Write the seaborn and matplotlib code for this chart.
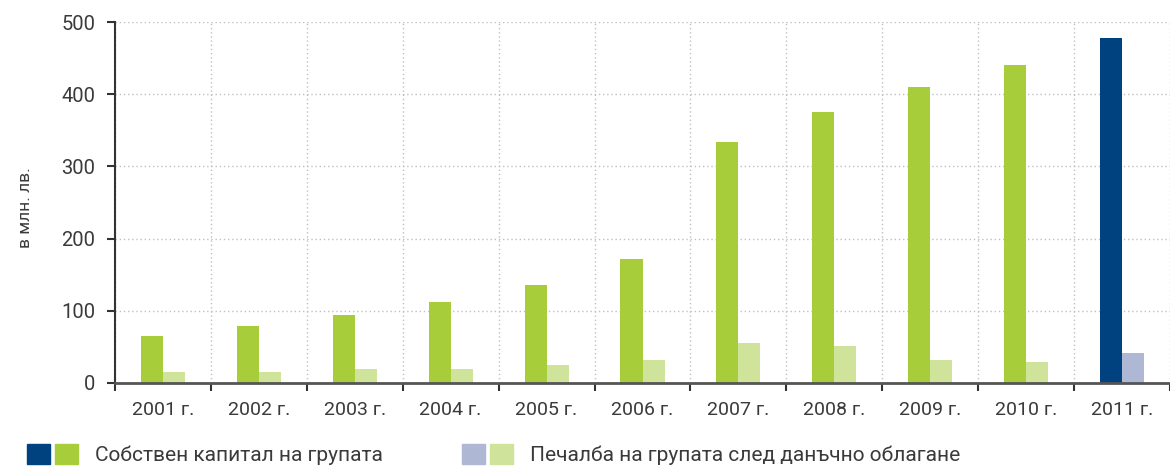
import matplotlib
matplotlib.use("Agg")
import matplotlib.pyplot as plt
from matplotlib.patches import Patch
from matplotlib.legend_handler import HandlerTuple
import seaborn as sns
import pandas as pd
import numpy as np

# data (в млн. лв.)
years = ['2001 г.', '2002 г.', '2003 г.', '2004 г.', '2005 г.', '2006 г.',
         '2007 г.', '2008 г.', '2009 г.', '2010 г.', '2011 г.']
equity = [65, 79, 94, 112, 136, 172, 334, 375, 410, 440, 478]
profit = [15, 15, 19, 19, 25, 32, 55, 51, 32, 29, 41]

label_equity = 'Собствен капитал на групата'
label_profit = 'Печалба на групата след данъчно облагане'
highlight_year = '2011 г.'

green = '#a8cd3a'
light_green = '#d0e39a'
navy = '#00427f'
light_blue = '#aeb7d4'
text_color = '#3a3a3a'

df = pd.DataFrame({
    'year': years * 2,
    'series': [label_equity] * len(years) + [label_profit] * len(years),
    'value': equity + profit,
})

sns.set_style('white')
plt.rcParams['font.family'] = ['Roboto', 'DejaVu Sans']

fig = plt.figure(figsize=(11.7, 4.67), dpi=100)
ax = fig.add_axes([115 / 1170, 1 - 383 / 467, 1 - 115 / 1170, (383 - 22) / 467])

sns.barplot(data=df, x='year', y='value', hue='series', order=years,
            hue_order=[label_equity, label_profit],
            palette=[green, light_green], width=0.46, saturation=1,
            linewidth=0, legend=False, ax=ax)

# last year in other colours
idx = years.index(highlight_year)
ax.containers[0][idx].set_facecolor(navy)
ax.containers[1][idx].set_facecolor(light_blue)

ax.set_xlim(-0.5, len(years) - 0.5)
ax.set_ylim(0, 500)
ax.set_yticks(np.arange(0, 501, 100))
ax.set_xticks(np.arange(len(years)))
ax.set_xticklabels(years)
ax.set_xticks(np.arange(-0.5, len(years), 1), minor=True)

ax.tick_params(axis='x', which='major', length=0, pad=13, labelsize=14, labelcolor=text_color)
ax.tick_params(axis='x', which='minor', length=6, width=1.5, color='#333333', direction='out', bottom=True)
ax.tick_params(axis='y', length=6, width=1.5, color='#333333', direction='out', left=True,
               pad=8, labelsize=14.5, labelcolor=text_color)

ax.grid(False)
ax.xaxis.grid(True, which='minor', color='#c0c0c0', linestyle=(0, (1, 2)), linewidth=1)
ax.yaxis.grid(True, which='major', color='#c0c0c0', linestyle=(0, (1, 2)), linewidth=1)
ax.set_axisbelow(True)

for s in ['top', 'right']:
    ax.spines[s].set_visible(False)
ax.spines['left'].set_color('#333333')
ax.spines['left'].set_linewidth(1.5)
ax.spines['bottom'].set_color('#555555')
ax.spines['bottom'].set_linewidth(2)

ax.set_xlabel('')
ax.set_ylabel('в млн. лв.', fontsize=12.5, color=text_color)
ax.yaxis.set_label_coords(-(115 - 33) / 1055, (383 - 208) / 361)

# legend with two colour squares per entry
fs = 15
fs_px = fs * 100 / 72
handles = [(Patch(color=navy), Patch(color=green)),
           (Patch(color=light_blue), Patch(color=light_green))]
fig.legend(handles, [label_equity, label_profit],
           handler_map={tuple: HandlerTuple(ndivide=None, pad=5 / fs_px)},
           loc='lower left', bbox_to_anchor=(27 / 1170, 1 - 465 / 467),
           ncol=2, frameon=False, fontsize=fs, labelcolor=text_color,
           handlelength=51 / fs_px, handleheight=23 / fs_px,
           handletextpad=17 / fs_px, columnspacing=79 / fs_px,
           borderpad=0, borderaxespad=0)

fig.savefig('out.png', dpi=100)
